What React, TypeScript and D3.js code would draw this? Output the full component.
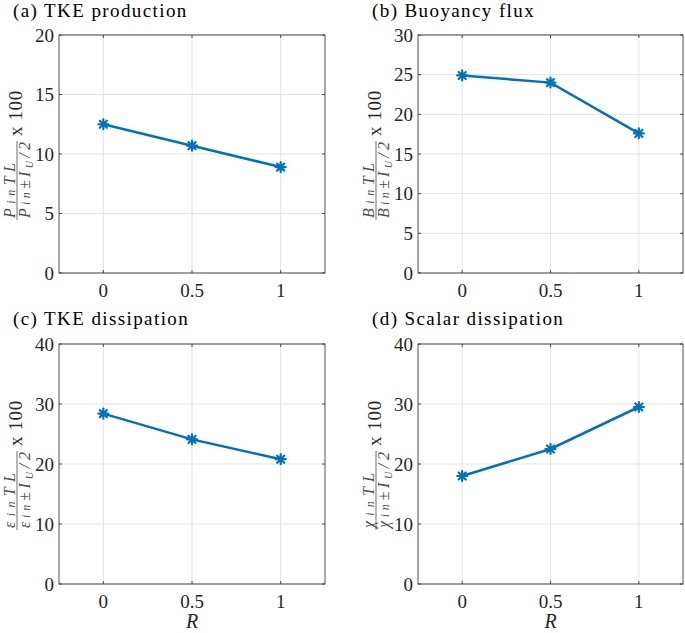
import React from "react";
import * as d3 from "d3";

const R_VALUES = [0, 0.5, 1];
const X_TICKS = [0, 0.5, 1];
const X_TICK_LABELS = ["0", "0.5", "1"];

const TITLES = ["(a) TKE production", "(b) Buoyancy flux", "(c) TKE dissipation", "(d) Scalar dissipation"];
const SYMBOLS = ["P", "B", "ε", "χ"];
const Y_MAX = [20, 30, 40, 40];
const Y_TICKS_A = [0, 5, 10, 15, 20];
const Y_TICKS_B = [0, 5, 10, 15, 20, 25, 30];
const Y_TICKS_C = [0, 10, 20, 30, 40];
const Y_TICKS_D = [0, 10, 20, 30, 40];

const PROD = [12.5, 10.7, 8.9];
const BUOY = [24.9, 24.0, 17.6];
const EPS = [28.4, 24.1, 20.8];
const CHI = [18.0, 22.5, 29.5];

const SERIES = [PROD, BUOY, EPS, CHI];
const Y_TICKS = [Y_TICKS_A, Y_TICKS_B, Y_TICKS_C, Y_TICKS_D];

const FONT = "Times New Roman";
const BLUE = "#0072BD";
const AX = "#262626";
const GRID = "#e3e3e3";
const LABC = "#4d4d4d";

const LAYOUT = [
  { left: 59, right: 325, top: 35, bottom: 273, titleY: 17, showR: false },
  { left: 418, right: 683, top: 35, bottom: 273, titleY: 17, showR: false },
  { left: 59, right: 325, top: 344, bottom: 584, titleY: 325, showR: true },
  { left: 418, right: 683, top: 344, bottom: 584, titleY: 325, showR: true },
];

const serif = { fontFamily: FONT };

function Asterisk({ x, y }: { x: number; y: number }) {
  const r = 5;
  const d = r * Math.SQRT1_2;
  const path = `M${-r},0L${r},0M0,${-r}L0,${r}M${-d},${-d}L${d},${d}M${-d},${d}L${d},${-d}`;
  return <path d={path} transform={`translate(${x},${y})`} stroke={BLUE} strokeWidth={2.2} fill="none" strokeLinecap="round" />;
}

function Panel({ i }: { i: number }) {
  const L = LAYOUT[i];
  const x = d3.scaleLinear().domain([-0.25, 1.25]).range([L.left, L.right]);
  const y = d3.scaleLinear().domain([0, Y_MAX[i]]).range([L.bottom, L.top]);
  const data = R_VALUES.map((r, k) => ({ r, v: SERIES[i][k] }));
  const line = d3.line<{ r: number; v: number }>().x((d) => x(d.r)).y((d) => y(d.v));
  const sym = SYMBOLS[i];
  const cy = (L.top + L.bottom) / 2;
  const labX = L.left - 42;
  const tick = 3;
  return (
    <g>
      <text x={L.left - 46} y={L.titleY} style={serif} fontSize={19} letterSpacing={1.4} fill="#000">{TITLES[i]}</text>
      {X_TICKS.map((t) => (
        <line key={"gx" + t} x1={x(t)} x2={x(t)} y1={L.top} y2={L.bottom} stroke={GRID} strokeWidth={1} />
      ))}
      {Y_TICKS[i].map((t) => (
        <line key={"gy" + t} x1={L.left} x2={L.right} y1={y(t)} y2={y(t)} stroke={GRID} strokeWidth={1} />
      ))}
      <rect x={L.left} y={L.top} width={L.right - L.left} height={L.bottom - L.top} fill="none" stroke={AX} strokeWidth={0.8} />
      {X_TICKS.map((t) => (
        <g key={"tx" + t}>
          <line x1={x(t)} x2={x(t)} y1={L.bottom} y2={L.bottom - tick} stroke={AX} strokeWidth={0.8} />
          <line x1={x(t)} x2={x(t)} y1={L.top} y2={L.top + tick} stroke={AX} strokeWidth={0.8} />
        </g>
      ))}
      {Y_TICKS[i].map((t) => (
        <g key={"ty" + t}>
          <line x1={L.left} x2={L.left + tick} y1={y(t)} y2={y(t)} stroke={AX} strokeWidth={0.8} />
          <line x1={L.right} x2={L.right - tick} y1={y(t)} y2={y(t)} stroke={AX} strokeWidth={0.8} />
        </g>
      ))}
      {X_TICKS.map((t, k) => (
        <text key={"lx" + t} x={x(t)} y={L.bottom + 24} textAnchor="middle" style={serif} fontSize={19} fill={AX}>{X_TICK_LABELS[k]}</text>
      ))}
      {Y_TICKS[i].map((t) => (
        <text key={"ly" + t} x={L.left - 5} y={y(t) + 6.5} textAnchor="end" style={serif} fontSize={19} fill={AX}>{String(t)}</text>
      ))}
      {L.showR && (
        <text x={(L.left + L.right) / 2} y={L.bottom + 44} textAnchor="middle" style={serif} fontSize={20} fontStyle="italic" fill={AX}>R</text>
      )}
      <g transform={`translate(${labX},${cy}) rotate(-90)`}>
        <text x={-64} y={-2.5} textAnchor="start" textLength={55} lengthAdjust="spacing" style={serif} fontSize={16} fontStyle="italic" fill={LABC}>
          {sym}
          <tspan fontSize={12}>in</tspan>
          TL
        </text>
        <line x1={-66} x2={13} y1={0} y2={0} stroke={LABC} strokeWidth={0.8} />
        <text x={-64} y={13} textAnchor="start" textLength={76} lengthAdjust="spacing" style={serif} fontSize={16} fontStyle="italic" fill={LABC}>
          {sym}
          <tspan fontSize={12}>in</tspan>
          ±I
          <tspan fontSize={10} dy={3}>U</tspan>
          <tspan dy={-3}>/2</tspan>
        </text>
        <text x={18} y={5} textAnchor="start" style={serif} fontSize={19} letterSpacing={0.6} fill={AX}>x 100</text>
      </g>
      <path d={line(data) || ""} fill="none" stroke={BLUE} strokeWidth={2.5} />
      {data.map((d, k) => (
        <Asterisk key={k} x={x(d.r)} y={y(d.v)} />
      ))}
    </g>
  );
}

export default function App() {
  return (
    <svg width={685} height={633} style={{ display: "block", position: "absolute", left: 0, top: 0, fontFamily: "'Times New Roman', 'Liberation Serif', serif" }}>
      <rect width={685} height={633} fill="#fff" />
      {[0, 1, 2, 3].map((i) => (
        <Panel key={i} i={i} />
      ))}
    </svg>
  );
}
